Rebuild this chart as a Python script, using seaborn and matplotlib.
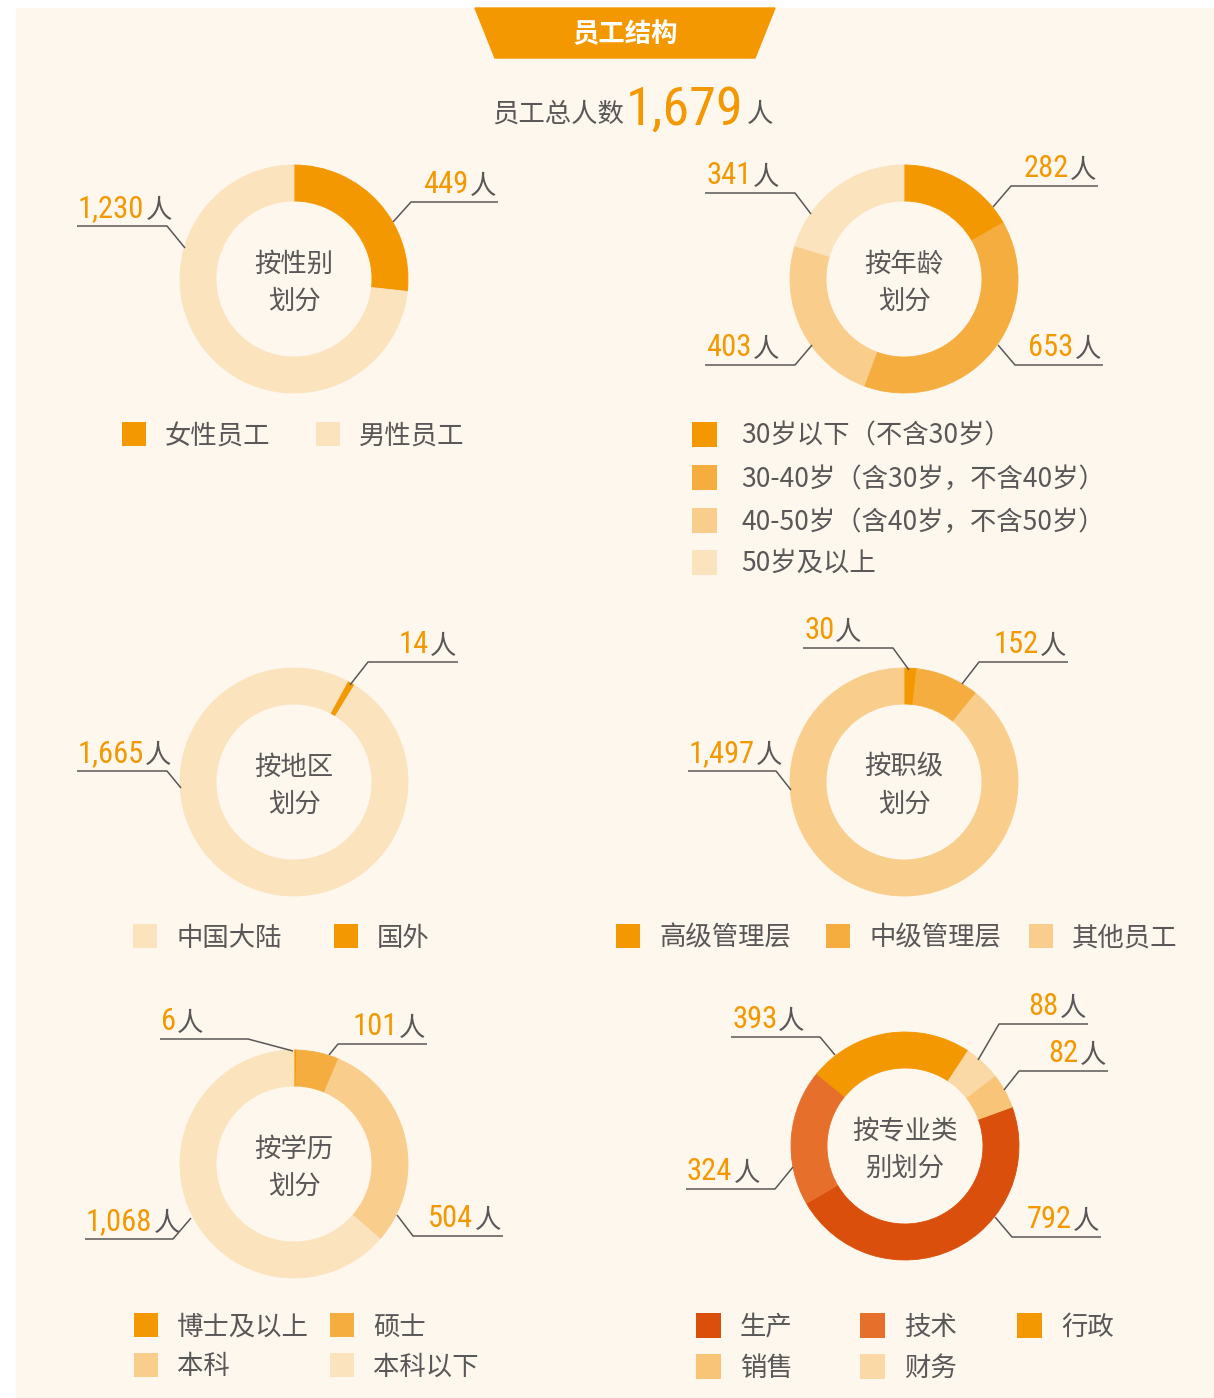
import matplotlib
matplotlib.use("Agg")
import matplotlib.pyplot as plt
import seaborn as sns
from matplotlib.patches import Rectangle, Polygon

#%% Data
title = "员工结构"
total_prefix = "员工总人数"
total_value = 1679

gender_title = ["按性别", "划分"]
gender_labels = ["女性员工", "男性员工"]
gender_values = [449, 1230]

age_title = ["按年龄", "划分"]
age_labels = ["30岁以下（不含30岁）", "30-40岁（含30岁，不含40岁）",
              "40-50岁（含40岁，不含50岁）", "50岁及以上"]
age_values = [282, 653, 403, 341]

region_title = ["按地区", "划分"]
region_labels = ["中国大陆", "国外"]
region_values = [1665, 14]

level_title = ["按职级", "划分"]
level_labels = ["高级管理层", "中级管理层", "其他员工"]
level_values = [30, 152, 1497]

edu_title = ["按学历", "划分"]
edu_labels = ["博士及以上", "硕士", "本科", "本科以下"]
edu_values = [6, 101, 504, 1068]

major_title = ["按专业类", "别划分"]
major_labels = ["生产", "技术", "行政", "销售", "财务"]
major_values = [792, 324, 393, 82, 88]

#%% Style
C1, C2, C3, C4 = "#F39800", "#F5AD3F", "#F9CD8B", "#FBE3BE"
BG = "#FEF7EE"
GRAY = "#595757"
NUM_FONT = ["Roboto Condensed", "Liberation Sans"]

sns.set_theme(style="white")
plt.rcParams["font.family"] = ["Noto Sans CJK SC", "DejaVu Sans"]

W, H = 1214, 1398
R, RW = 114, 36

fig = plt.figure(figsize=(W / 100, H / 100), dpi=100)
fig.patch.set_facecolor("white")
ax = fig.add_axes([0, 0, 1, 1])
ax.set_xlim(0, W)
ax.set_ylim(0, H)
ax.set_aspect("equal")
ax.axis("off")
renderer = fig.canvas.get_renderer()


def Y(y):
    return H - y


ax.add_patch(Rectangle((16, 0), W - 16, H - 8, color=BG, zorder=0))

# Banner
ax.add_patch(Polygon([(475, Y(8)), (775, Y(8)), (755, Y(58)), (495, Y(58))],
                     closed=True, color=C1, zorder=1))
ax.text(625, Y(35), title, color="white", fontsize=19, fontweight="bold",
        ha="center", va="center")

# Total
ax.text(624, Y(122), total_prefix, color=GRAY, fontsize=19, ha="right", va="baseline")
t = ax.text(626, Y(125), f"{total_value:,}", color=C1, fontsize=39,
            family=NUM_FONT, ha="left", va="baseline")
bb = t.get_window_extent(renderer)
ax.text(bb.x1 + 3, Y(122), "人", color=GRAY, fontsize=19, ha="left", va="baseline")


def donut(values, colors, cx, cy, start=0.0, order=None):
    if order is None:
        order = range(len(values))
    v = [values[i] for i in order]
    c = [colors[i] for i in order]
    wedges, _ = ax.pie(v, colors=c, center=(cx, Y(cy)), radius=R, startangle=90 - start,
                       counterclock=False, frame=True,
                       wedgeprops=dict(width=RW, linewidth=0.6))
    for w in wedges:
        w.set_edgecolor(w.get_facecolor())


def center_text(lines, cx, cy):
    ax.text(cx, Y(cy - 15), lines[0], color=GRAY, fontsize=19, ha="center", va="center")
    ax.text(cx, Y(cy + 22), lines[1], color=GRAY, fontsize=19, ha="center", va="center")


def leader(value, pts):
    xs = [p[0] for p in pts]
    ys = [Y(p[1]) for p in pts]
    ax.plot(xs, ys, color=GRAY, linewidth=1.1, solid_capstyle="butt")
    ex, ey = pts[-1]
    num = f"{value:,}"
    if ex > pts[0][0]:
        t2 = ax.text(ex - 2, Y(ey - 8), "人", color=GRAY, fontsize=19,
                     ha="right", va="baseline")
        b = t2.get_window_extent(renderer)
        ax.text(b.x0 - 1, Y(ey - 9), num, color=C1, fontsize=22, family=NUM_FONT,
                ha="right", va="baseline")
    else:
        t1 = ax.text(ex + 1, Y(ey - 9), num, color=C1, fontsize=22, family=NUM_FONT,
                     ha="left", va="baseline")
        b = t1.get_window_extent(renderer)
        ax.text(b.x1 + 1, Y(ey - 8), "人", color=GRAY, fontsize=19,
                ha="left", va="baseline")


def legend(labels, colors, positions, gap=43, size=24):
    for lab, col, (x, y) in zip(labels, colors, positions):
        ax.add_patch(Rectangle((x, Y(y) - size / 2), size, size, color=col, linewidth=0))
        ax.text(x + gap, Y(y + 2), lab, color=GRAY, fontsize=19, ha="left", va="center")


#%% Gender
g_col = sns.color_palette([C1, C4])
donut(gender_values, g_col, 294, 279)
center_text(gender_title, 294, 279)
leader(gender_values[0], [(393, 222), (411, 202), (498, 202)])
leader(gender_values[1], [(185, 248), (167, 226), (77, 226)])
legend(gender_labels, g_col, [(122, 434), (316, 434)])

#%% Age
a_col = sns.color_palette([C1, C2, C3, C4])
donut(age_values, a_col, 904, 279)
center_text(age_title, 904, 279)
leader(age_values[0], [(993, 207), (1011, 186), (1098, 186)])
leader(age_values[1], [(998, 345), (1015, 365), (1103, 365)])
leader(age_values[2], [(812, 345), (795, 365), (705, 365)])
leader(age_values[3], [(811, 214), (795, 193), (705, 193)])
legend(age_labels, a_col, [(692, 434), (692, 477), (692, 520), (692, 562)], gap=49, size=25)

#%% Region
r_col = sns.color_palette([C4, C1])
frac = region_values[1] / sum(region_values)
donut(region_values, r_col, 294, 782, start=30 + 180 * frac)
center_text(region_title, 294, 782)
leader(region_values[1], [(350, 685), (368, 662), (458, 662)])
leader(region_values[0], [(181, 788), (167, 771), (77, 771)])
legend(region_labels, r_col, [(133, 936), (334, 936)])

#%% Level
l_col = sns.color_palette([C1, C2, C3])
donut(level_values, l_col, 904, 782)
center_text(level_title, 904, 782)
leader(level_values[0], [(909, 670), (893, 648), (803, 648)])
leader(level_values[1], [(962, 684), (979, 662), (1068, 662)])
leader(level_values[2], [(791, 790), (776, 771), (688, 771)])
legend(level_labels, l_col, [(616, 936), (826, 936), (1029, 936)])

#%% Education
e_col = sns.color_palette([C1, C2, C3, C4])
donut(edu_values, e_col, 294, 1164)
center_text(edu_title, 294, 1164)
leader(edu_values[0], [(293, 1051), (248, 1039), (160, 1039)])
leader(edu_values[1], [(329, 1055), (338, 1044), (427, 1044)])
leader(edu_values[2], [(397, 1215), (413, 1236), (503, 1236)])
leader(edu_values[3], [(191, 1218), (173, 1239), (85, 1239)])
legend(edu_labels, e_col, [(134, 1325), (330, 1325), (134, 1365), (330, 1365)])

#%% Major
m_col = sns.color_palette(["#D94F0B", "#E6702B", C1, "#F8C477", "#FBD9A6"])
donut(major_values, m_col, 905, 1146, start=70, order=[0, 1, 2, 4, 3])
center_text(major_title, 905, 1146)
leader(major_values[2], [(835, 1055), (820, 1037), (731, 1037)])
leader(major_values[4], [(978, 1060), (999, 1024), (1088, 1024)])
leader(major_values[3], [(1004, 1090), (1019, 1071), (1108, 1071)])
leader(major_values[1], [(793, 1167), (775, 1189), (686, 1189)])
leader(major_values[0], [(995, 1217), (1012, 1237), (1101, 1237)])
legend(major_labels, m_col, [(696, 1325), (860, 1325), (1017, 1325), (696, 1366), (860, 1366)],
       gap=44, size=25)

#%% Finish
ax.set_xlim(0, W)
ax.set_ylim(0, H)
ax.axis("off")
fig.savefig("out.png", dpi=100, facecolor=fig.get_facecolor())
